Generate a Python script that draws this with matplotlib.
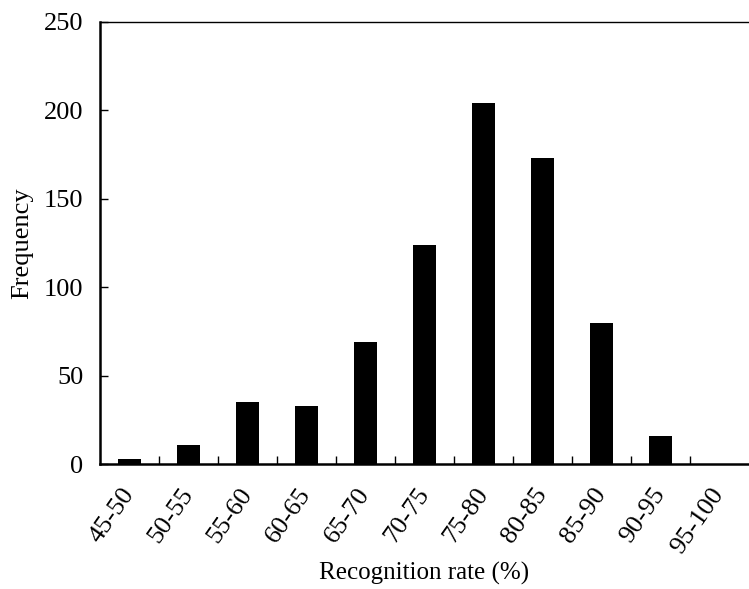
import matplotlib.pyplot as plt
import numpy as np

# recognition rate bins and their counts
bins = ['45-50', '50-55', '55-60', '60-65', '65-70', '70-75',
        '75-80', '80-85', '85-90', '90-95', '95-100']
freq = [3, 11, 35, 33, 69, 124, 204, 173, 80, 16, 0]

plt.rcParams['font.family'] = ['Liberation Serif', 'DejaVu Serif']
plt.rcParams['font.size'] = 19

fig = plt.figure(figsize=(7.49, 5.89), dpi=100)
ax = fig.add_axes([0.1335, 0.212, 0.8665, 0.751])

x = np.arange(len(bins))
ax.bar(x, freq, width=0.4, color='black')

ax.set_xlim(-0.5, len(bins) - 0.5)
ax.set_ylim(0, 250)
ax.set_yticks([0, 50, 100, 150, 200, 250])

# labels at the bar centres, tick marks between the bins
ax.set_xticks(x)
ax.set_xticklabels(bins, rotation=55, ha='right', va='center', rotation_mode='anchor')
ax.set_xticks(np.arange(0.5, len(bins) - 0.5), minor=True)
ax.tick_params(axis='x', which='major', length=0, pad=19)
ax.tick_params(axis='x', which='minor', direction='in', length=6, width=1)
ax.tick_params(axis='y', direction='in', length=6, width=1, pad=12)

ax.spines['right'].set_visible(False)
ax.spines['left'].set_linewidth(1.8)
ax.spines['bottom'].set_linewidth(1.8)
ax.spines['top'].set_linewidth(1.0)

ax.set_xlabel('Recognition rate (%)', fontsize=18)
ax.xaxis.set_label_coords(0.5, -0.222)
ax.set_ylabel('Frequency')
ax.yaxis.set_label_coords(-0.103, 0.5)

fig.savefig('out.png', dpi=100)
